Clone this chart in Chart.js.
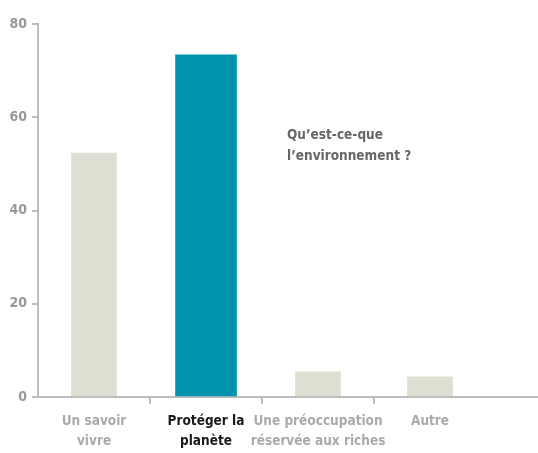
<html>
	<head>
		<meta name="viewport" content="width=device-width, initial-scale=1">
		<style>
			html, body { margin: 0; padding: 0; background: #fff; }
			#wrap { width: 538px; height: 453px; }
		</style>
	</head>
	<body>
		<div id="wrap"><canvas id="myChart"></canvas></div>
		<script src="https://cdn.jsdelivr.net/npm/chart.js@4"></script>
		<script>
			const categories = [
				['Un savoir', 'vivre'],
				['Protéger la', 'planète'],
				['Une préoccupation', 'réservée aux riches'],
				['Autre']
			];
			const values = [52.3, 73.4, 5.4, 4.3];
			const highlight = 1;
			const yTicks = [0, 20, 40, 60, 80];
			const note = ['Qu’est-ce-que', 'l’environnement ?'];

			const font = "'Liberation Sans Narrow', 'DejaVu Sans Condensed', sans-serif";
			const axisGrey = '#bdbdbd';

			const points = values.map((v, i) => ({ x: i, y: v }));

			const notePlugin = {
				id: 'note',
				afterDraw(chart) {
					const c = chart.ctx;
					c.save();
					c.font = 'bold 13.5px ' + font;
					c.fillStyle = '#666';
					c.textBaseline = 'middle';
					note.forEach((t, i) => c.fillText(t, 287, 135 + i * 21));
					c.restore();
				}
			};

			new Chart(document.getElementById('myChart'), {
				type: 'bar',
				data: {
					datasets: [
						{
							data: points.filter((p, i) => i !== highlight),
							backgroundColor: '#dbe0d2',
							barThickness: 45
						},
						{
							data: points.filter((p, i) => i === highlight),
							backgroundColor: '#0093ae',
							barThickness: 61
						}
					]
				},
				plugins: [notePlugin],
				options: {
					responsive: true,
					maintainAspectRatio: false,
					animation: false,
					grouped: false,
					layout: { padding: { top: 24, right: 0, left: 0, bottom: 0 } },
					plugins: {
						legend: { display: false },
						tooltip: { enabled: false }
					},
					scales: {
						x: {
							type: 'linear',
							offset: false,
							min: -0.5,
							max: 3.964,
							afterBuildTicks: s => { s.ticks = categories.map((c, i) => ({ value: i })); },
							afterFit: s => { s.height = 56; },
							border: { color: axisGrey, width: 2 },
							grid: {
								offset: true,
								drawOnChartArea: false,
								tickLength: 7,
								lineWidth: 2,
								color: c => (c.index >= 1 && c.index <= 3) ? axisGrey : 'rgba(0,0,0,0)'
							},
							ticks: {
								autoSkip: false,
								maxRotation: 0,
								padding: 7,
								callback: v => categories[v],
								color: c => c.index === highlight ? '#1a1a1a' : '#aaaaaa',
								font: { family: font, size: 13.5, weight: 'bold', lineHeight: 1.5 }
							}
						},
						y: {
							min: 0,
							max: 80,
							afterBuildTicks: s => { s.ticks = yTicks.map(v => ({ value: v })); },
							afterFit: s => { s.width = 38; },
							border: { color: axisGrey, width: 2 },
							grid: {
								drawOnChartArea: false,
								tickLength: 6,
								lineWidth: 2,
								color: axisGrey
							},
							ticks: {
								padding: 5,
								color: '#999',
								font: { family: font, size: 14, weight: 'bold' }
							}
						}
					}
				}
			});
		</script>
	</body>
</html>
